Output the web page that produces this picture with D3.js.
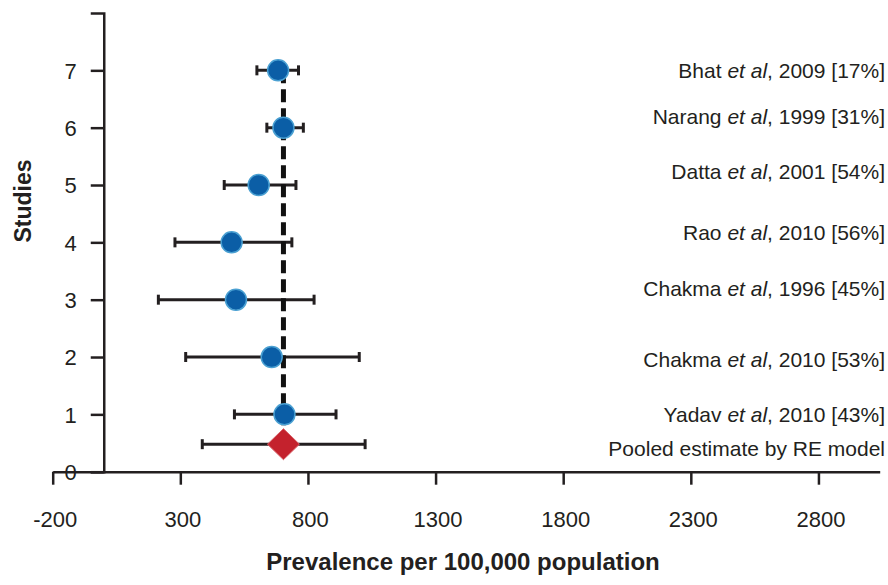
<!DOCTYPE html>
<html>
<head>
<meta charset="utf-8">
<script src="https://cdnjs.cloudflare.com/ajax/libs/d3/7.8.5/d3.min.js"></script>
<style>
  body { margin: 0; background: #fff; }
  text { font-family: "Liberation Sans", Arial, sans-serif; fill: #231f20; }
</style>
</head>
<body>
<div id="chart"></div>
<script>
// study data, bottom to top (y position 1..7)
const authors   = ["Yadav", "Chakma", "Chakma", "Rao", "Datta", "Narang", "Bhat"];
const years     = [2010, 2010, 1996, 2010, 2001, 1999, 2009];
const weights   = ["43%", "53%", "45%", "56%", "54%", "31%", "17%"];
const studyPos  = [1, 2, 3, 4, 5, 6, 7];
const estimates = [708, 658, 518, 501, 607, 704, 683];
const lowerCI   = [512, 321, 214, 279, 472, 639, 600];
const upperCI   = [910, 1001, 824, 737, 753, 782, 763];
// label rows sit a little off the points in the original
const labelPos  = [0.99, 1.96, 3.2, 4.17, 5.23, 6.19, 7.0];

// pooled estimate (random effects)
const pooledLabel = "Pooled estimate by RE model";
const pooledPos = 0.48;
const pooledEst = 704;
const pooledLow = 386;
const pooledHigh = 1024;
const pooledLabelPos = 0.41;

const xTicks = [-200, 300, 800, 1300, 1800, 2300, 2800];
const yTicks = [0, 1, 2, 3, 4, 5, 6, 7];

const width = 888, height = 585;

let svg = d3.select("#chart").append("svg")
    .attr("width", width)
    .attr("height", height);

let x = d3.scaleLinear().domain([-200, 3040]).range([52.7, 879.7]);
let y = d3.scaleLinear().domain([0, 8]).range([471.7, 13]);

let studies = studyPos.map((p, i) => ({
    pos: p, est: estimates[i], lo: lowerCI[i], hi: upperCI[i],
    author: authors[i], year: years[i], weight: weights[i], lab: labelPos[i]
}));

// axes
let xAxis = svg.append("g")
    .attr("transform", `translate(0, ${y(0)})`)
    .call(d3.axisBottom(x).tickValues(xTicks).tickFormat(d => String(d))
        .tickSize(13).tickSizeOuter(0).tickPadding(27));

let yAxis = svg.append("g")
    .attr("transform", `translate(${x(0)}, 0)`)
    .call(d3.axisLeft(y).tickValues(yTicks).tickFormat(d => String(d))
        .tickSize(13).tickSizeOuter(13).tickPadding(14));

[xAxis, yAxis].forEach(a => {
    a.selectAll("path, line").attr("stroke", "#231f20").attr("stroke-width", 2.5);
    a.selectAll("text")
        .attr("font-family", "'Liberation Sans', Arial, sans-serif")
        .attr("font-size", "22px")
        .attr("fill", "#231f20");
});
yAxis.selectAll("text").attr("dy", "0.36em");
xAxis.selectAll("text").attr("dx", "2px");

// axis titles
svg.append("text")
    .attr("x", 463)
    .attr("y", 570)
    .attr("text-anchor", "middle")
    .attr("font-weight", "bold")
    .attr("font-size", "24px")
    .text("Prevalence per 100,000 population");

svg.append("text")
    .attr("transform", "translate(31, 201) rotate(-90)")
    .attr("text-anchor", "middle")
    .attr("font-weight", "bold")
    .attr("font-size", "23px")
    .text("Studies");

// error bars
let bars = svg.append("g");
let allBars = studies.map(d => ({pos: d.pos, lo: d.lo, hi: d.hi}))
    .concat([{pos: pooledPos, lo: pooledLow, hi: pooledHigh}]);

bars.selectAll(".ci").data(allBars).enter().append("line")
    .attr("x1", d => x(d.lo)).attr("x2", d => x(d.hi))
    .attr("y1", d => y(d.pos)).attr("y2", d => y(d.pos))
    .attr("stroke", "#231f20").attr("stroke-width", 3);

bars.selectAll(".capL").data(allBars).enter().append("line")
    .attr("x1", d => x(d.lo)).attr("x2", d => x(d.lo))
    .attr("y1", d => y(d.pos) - 5).attr("y2", d => y(d.pos) + 5)
    .attr("stroke", "#231f20").attr("stroke-width", 3);

bars.selectAll(".capR").data(allBars).enter().append("line")
    .attr("x1", d => x(d.hi)).attr("x2", d => x(d.hi))
    .attr("y1", d => y(d.pos) - 5).attr("y2", d => y(d.pos) + 5)
    .attr("stroke", "#231f20").attr("stroke-width", 3);

// dashed pooled line
svg.append("line")
    .attr("x1", x(pooledEst)).attr("x2", x(pooledEst))
    .attr("y1", y(7)).attr("y2", y(pooledPos))
    .attr("stroke", "#111")
    .attr("stroke-width", 5)
    .attr("stroke-dasharray", "13,6");

// study points
svg.selectAll(".pt").data(studies).enter().append("circle")
    .attr("cx", d => x(d.est))
    .attr("cy", d => y(d.pos))
    .attr("r", 10.5)
    .attr("fill", "#0b5ea6")
    .attr("stroke", "#4aa0d2")
    .attr("stroke-width", 1.5);

// pooled diamond
let px = x(pooledEst), py = y(pooledPos);
svg.append("path")
    .attr("d", `M${px - 16},${py} L${px},${py - 15.5} L${px + 16},${py} L${px},${py + 15.5} Z`)
    .attr("fill", "#c4222d")
    .attr("stroke", "#d9636a")
    .attr("stroke-width", 1);

// labels
let labels = svg.selectAll(".lab").data(studies).enter().append("text")
    .attr("x", 885)
    .attr("y", d => y(d.lab))
    .attr("dy", "0.36em")
    .attr("text-anchor", "end")
    .attr("font-size", "21px");
labels.append("tspan").text(d => d.author + " ");
labels.append("tspan").attr("font-style", "italic").text("et al");
labels.append("tspan").text(d => `, ${d.year} [${d.weight}]`);

svg.append("text")
    .attr("x", 885)
    .attr("y", y(pooledLabelPos))
    .attr("dy", "0.36em")
    .attr("text-anchor", "end")
    .attr("font-size", "21px")
    .text(pooledLabel);
</script>
</body>
</html>
